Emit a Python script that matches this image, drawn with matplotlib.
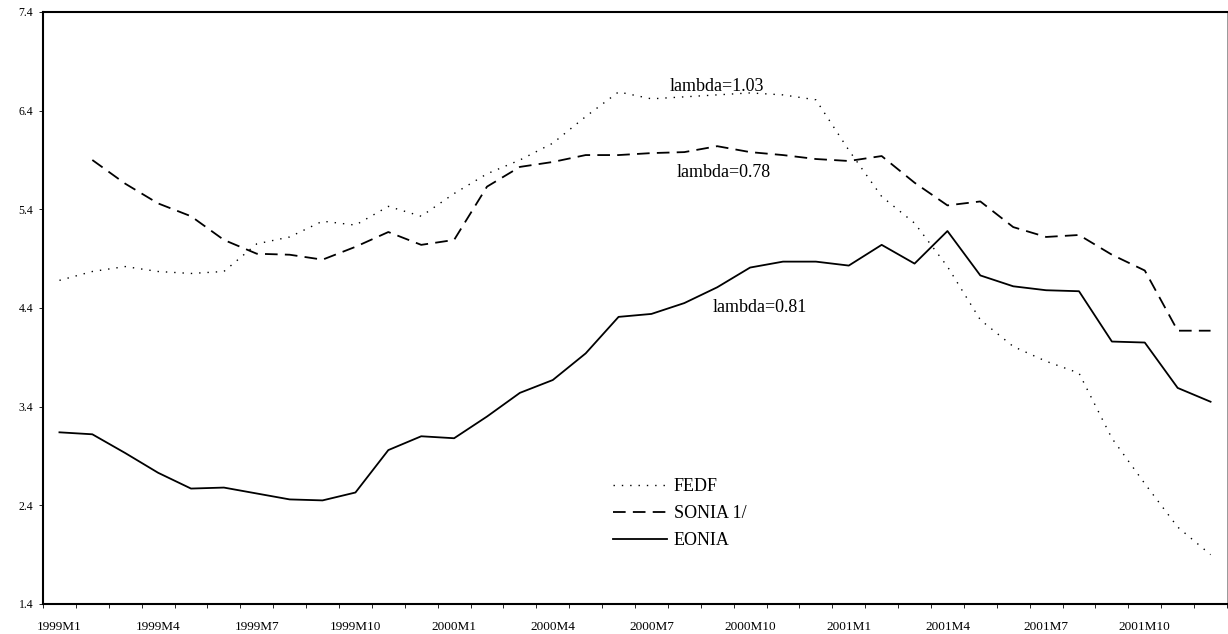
import matplotlib
matplotlib.use("Agg")
import matplotlib.pyplot as plt
import numpy as np

plt.rcParams['font.family'] = ['Liberation Serif', 'DejaVu Serif']

months = [f"{y}M{m}" for y in (1999, 2000, 2001) for m in range(1, 13)]

fedf = [4.68, 4.77, 4.82, 4.77, 4.75, 4.77, 5.05, 5.12, 5.28, 5.24, 5.43, 5.33,
        5.56, 5.76, 5.90, 6.07, 6.34, 6.59, 6.52, 6.54, 6.56, 6.58, 6.56, 6.51,
        6.00, 5.53, 5.26, 4.82, 4.28, 4.01, 3.86, 3.74, 3.08, 2.62, 2.18, 1.90]
sonia = [np.nan, 5.90, 5.66, 5.46, 5.33, 5.09, 4.95, 4.94, 4.89, 5.02, 5.17, 5.04,
         5.09, 5.63, 5.83, 5.88, 5.95, 5.95, 5.97, 5.98, 6.04, 5.98, 5.95, 5.91,
         5.89, 5.94, 5.67, 5.44, 5.48, 5.22, 5.12, 5.14, 4.94, 4.78, 4.17, 4.17]
eonia = [3.14, 3.12, 2.93, 2.73, 2.57, 2.58, 2.52, 2.46, 2.45, 2.53, 2.96, 3.10,
         3.08, 3.30, 3.54, 3.67, 3.94, 4.31, 4.34, 4.45, 4.61, 4.81, 4.87, 4.87,
         4.83, 5.04, 4.85, 5.18, 4.73, 4.62, 4.58, 4.57, 4.06, 4.05, 3.59, 3.45]

yticks = [1.4, 2.4, 3.4, 4.4, 5.4, 6.4, 7.4]
annotations = [("lambda=1.03", 20.0, 6.64), ("lambda=0.78", 20.2, 5.77), ("lambda=0.81", 21.3, 4.40)]

fig = plt.figure(figsize=(12.28, 6.34), dpi=100)
ax = fig.add_axes([43/1228, 30/634, 1184/1228, 592/634])

x = np.arange(len(months))
ax.plot(x, fedf, color='black', lw=1.0, linestyle=(0, (1, 5)), label='FEDF')
ax.plot(x, sonia, color='black', lw=1.3, linestyle=(0, (7, 4)), label='SONIA 1/')
ax.plot(x, eonia, color='black', lw=1.3, linestyle='-', label='EONIA')

ax.set_xlim(-0.5, len(months) - 0.5)
ax.set_ylim(1.4, 7.4)
ax.set_yticks(yticks)
ax.set_yticklabels([f"{v:.1f}" for v in yticks], fontsize=8.5)
ax.set_xticks(x[::3])
ax.set_xticklabels(months[::3], fontsize=9.5)
ax.set_xticks(np.arange(-0.5, len(months), 1), minor=True)
ax.tick_params(axis='x', which='major', length=0, pad=12)
ax.tick_params(axis='x', which='minor', length=3, width=0.6, direction='out')
ax.tick_params(axis='y', length=3, width=0.6, pad=4)

for s in ('top', 'left', 'bottom'):
    ax.spines[s].set_linewidth(1.5)
ax.spines['right'].set_linewidth(0.6)
ax.spines['right'].set_color('#888888')

for txt, xi, yv in annotations:
    ax.text(xi, yv, txt, fontsize=13, ha='center', va='center')

leg = ax.legend(loc='upper left', bbox_to_anchor=(0.481, 0.212), frameon=False,
                fontsize=13, handlelength=3.0, handletextpad=0.4, labelspacing=0.55,
                borderaxespad=0, borderpad=0)

fig.savefig('out.png', dpi=100)
